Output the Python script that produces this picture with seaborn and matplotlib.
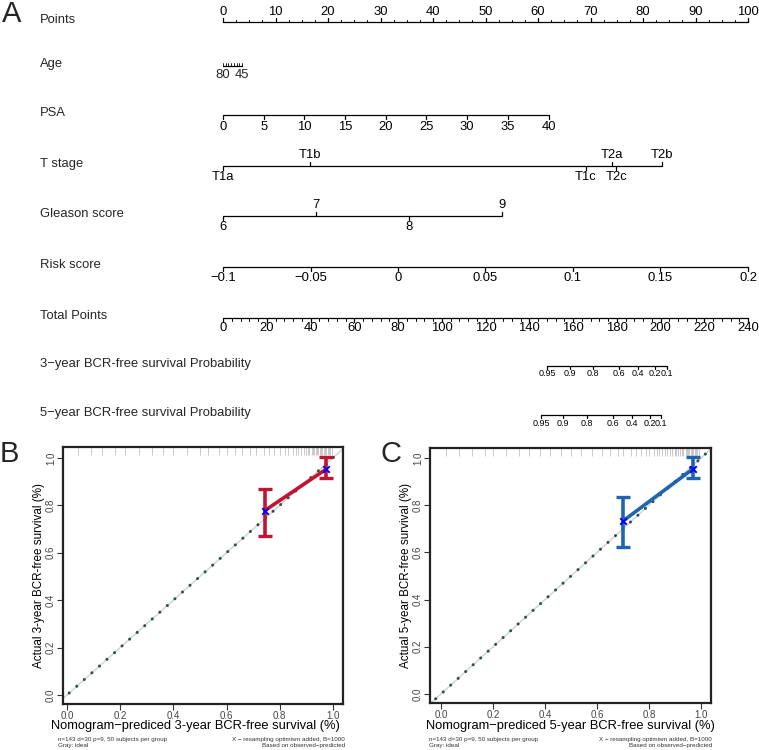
# Nomogram (A) plus two calibration curves (B, C) for BCR-free survival

import numpy as np
import seaborn as sns
import matplotlib
matplotlib.use("Agg")
import matplotlib.pyplot as plt

# ---- nomogram data (positions in "Points" units, 0-100) ----
points_ticks = [0, 10, 20, 30, 40, 50, 60, 70, 80, 90, 100]
age_ends = [80, 45]
age_end_points = [0.0, 3.6]
age_ticks = [80, 75, 70, 65, 60, 55, 50, 45]
psa_ticks = [0, 5, 10, 15, 20, 25, 30, 35, 40]
psa_max_points = 62.0
t_stage_labels = ["T1a", "T1b", "T1c", "T2a", "T2c", "T2b"]
t_stage_points = [0.0, 16.6, 69.1, 74.1, 74.9, 83.6]
t_stage_side = ["down", "up", "down", "up", "down", "up"]
gleason_labels = ["6", "7", "8", "9"]
gleason_points = [0.0, 17.7, 35.4, 53.1]
gleason_side = ["down", "up", "down", "up"]
risk_ticks = [-0.1, -0.05, 0, 0.05, 0.1, 0.15, 0.2]
risk_labels = ["\u22120.1", "\u22120.05", "0", "0.05", "0.1", "0.15", "0.2"]
total_ticks = [0, 20, 40, 60, 80, 100, 120, 140, 160, 180, 200, 220, 240]
prob_labels = ["0.95", "0.9", "0.8", "0.6", "0.4", "0.2", "0.1"]
prob3_total = [148.1, 158.6, 169.1, 181.0, 189.7, 197.5, 203.0]
prob5_total = [145.4, 155.4, 166.4, 178.3, 187.0, 195.2, 200.2]
row_names = ["Points", "Age", "PSA", "T stage", "Gleason score", "Risk score",
             "Total Points", "3\u2212year BCR-free survival Probability",
             "5\u2212year BCR-free survival Probability"]

# ---- calibration data ----
pred3 = [0.744, 0.974]
obs3 = [0.778, 0.952]
lo3 = [0.671, 0.916]
hi3 = [0.869, 1.005]
rug3 = [0.04, 0.09, 0.13, 0.18, 0.22, 0.27, 0.32, 0.36, 0.4, 0.45, 0.5, 0.53, 0.57,
        0.6, 0.63, 0.66, 0.69, 0.71, 0.74, 0.76, 0.78, 0.8, 0.82, 0.83, 0.85, 0.86,
        0.87, 0.88, 0.89, 0.9, 0.905, 0.91, 0.92, 0.925, 0.93, 0.935, 0.94, 0.945,
        0.95, 0.955, 0.96, 0.965, 0.97, 0.975, 0.98, 0.985, 0.99, 0.995]
pred5 = [0.701, 0.967]
obs5 = [0.734, 0.952]
lo5 = [0.624, 0.915]
hi5 = [0.833, 1.005]
rug5 = [0.02, 0.07, 0.12, 0.17, 0.2, 0.25, 0.3, 0.34, 0.38, 0.42, 0.46, 0.5, 0.54,
        0.58, 0.62, 0.65, 0.68, 0.7, 0.73, 0.75, 0.77, 0.79, 0.8, 0.82, 0.83, 0.84,
        0.85, 0.86, 0.87, 0.88, 0.89, 0.9, 0.905, 0.91, 0.92, 0.925, 0.93, 0.94,
        0.945, 0.95, 0.955, 0.96, 0.965, 0.97, 0.975, 0.98, 0.985, 0.99]

sns.set_theme(style="white")
plt.rcParams["font.family"] = ["Liberation Sans", "DejaVu Sans"]

W, H = 759, 750
fig = plt.figure(figsize=(W / 100, H / 100), dpi=100)

# nomogram axes: x in points (0-100), y in figure pixels from the top
nom = fig.add_axes([223 / W, 1 - 430 / H, 525 / W, 430 / H])
nom.set_xlim(0, 100)
nom.set_ylim(430, 0)
nom.axis("off")

row_y = [22, 66, 115, 166, 216, 267, 318, 366, 415]
FS = 9.4


def scale(y, pos, labels, sides, minor=(), minor_side="down", size=FS, pad=11,
          major_len=4, minor_len=2.5):
    allpos = list(pos) + list(minor)
    nom.plot([min(allpos), max(allpos)], [y, y], color="black", lw=0.9,
             clip_on=False, solid_capstyle="butt")
    for p, lab, s in zip(pos, labels, sides):
        d = -1 if s == "up" else 1
        nom.plot([p, p], [y, y + d * major_len], color="black", lw=0.9, clip_on=False)
        nom.text(p, y + d * pad, lab, ha="center", va="center", fontsize=size,
                 color="black", clip_on=False)
    d = -1 if minor_side == "up" else 1
    for p in minor:
        nom.plot([p, p], [y, y + d * minor_len], color="black", lw=0.7, clip_on=False)


# Points
scale(row_y[0], points_ticks, [str(t) for t in points_ticks], ["up"] * 11,
      minor=np.arange(0, 100.1, 2.5), minor_side="up", pad=10)
# Age
age_pos = np.interp(age_ticks, age_ends[::-1], age_end_points[::-1])
nom.plot([0, age_end_points[1]], [row_y[1], row_y[1]], color="black", lw=0.9)
for p in age_pos:
    nom.plot([p, p], [row_y[1], row_y[1] - 3], color="black", lw=0.6)
for v, p in zip(age_ends, age_end_points):
    nom.text(p, row_y[1] + 9, str(v), ha="center", va="center", fontsize=FS)
# PSA
psa_pos = np.interp(psa_ticks, [0, 40], [0, psa_max_points])
scale(row_y[2], psa_pos, [str(t) for t in psa_ticks], ["down"] * len(psa_ticks), pad=12)
# T stage
scale(row_y[3], t_stage_points, t_stage_labels, t_stage_side)
# Gleason
scale(row_y[4], gleason_points, gleason_labels, gleason_side)
# Risk score
risk_pos = np.interp(risk_ticks, [-0.1, 0.2], [0, 100])
scale(row_y[5], risk_pos, risk_labels, ["down"] * len(risk_ticks))
# Total points
total_pos = np.interp(total_ticks, [0, 240], [0, 100])
scale(row_y[6], total_pos, [str(t) for t in total_ticks], ["down"] * len(total_ticks),
      minor=np.interp(np.arange(0, 240.1, 4), [0, 240], [0, 100]), pad=10)
# survival probabilities
scale(row_y[7], np.interp(prob3_total, [0, 240], [0, 100]), prob_labels,
      ["down"] * 7, size=6.5, pad=8, major_len=3)
scale(row_y[8], np.interp(prob5_total, [0, 240], [0, 100]), prob_labels,
      ["down"] * 7, size=6.5, pad=8, major_len=3)

for name, y in zip(row_names, row_y):
    fig.text(40 / W, 1 - (y - 2) / H, name, ha="left", va="center", fontsize=FS)


def calib(box, xlim, ylim, pred, obs, lo, hi, rug, color, year, foot_x, xlab_x):
    left, top, right, bottom = box
    ax = fig.add_axes([left / W, 1 - bottom / H, (right - left) / W, (bottom - top) / H])
    ax.set_xlim(xlim)
    ax.set_ylim(ylim)
    ax.axline((0, 0), (1, 1), color="#d4d4d4", lw=1.1, zorder=1)
    ax.plot([-0.02, 1.03], [-0.02, 1.03], color="#2f4f4f", lw=2.2,
            linestyle=(0, (0.01, 3.3)), dash_capstyle="round", zorder=2)
    sns.lineplot(x=pred, y=obs, color=color, lw=2.6, ax=ax, zorder=3)
    obs_a = np.array(obs)
    ax.errorbar(pred, obs, yerr=[obs_a - np.array(lo), np.array(hi) - obs_a], fmt="none",
                ecolor=color, elinewidth=2.6, capsize=5, capthick=2.4, zorder=3)
    sns.scatterplot(x=pred, y=obs, marker="x", color="blue", s=22, linewidth=1.4,
                    ax=ax, zorder=4)
    ax.vlines(rug, ylim[1] - 0.035, ylim[1], color="#999999", lw=0.6, alpha=0.6, zorder=1)
    ticks = [0.0, 0.2, 0.4, 0.6, 0.8, 1.0]
    ax.set_xticks(ticks)
    ax.set_yticks(ticks)
    ax.set_xticklabels([f"{t:.1f}" for t in ticks])
    ax.set_yticklabels([f"{t:.1f}" for t in ticks], rotation=90, va="center")
    ax.tick_params(direction="out", length=4, width=0.8, color="#333333",
                   labelsize=7, labelcolor="#444444", pad=1, bottom=True, left=True)
    for sp in ax.spines.values():
        sp.set_color("#222222")
        sp.set_linewidth(1.6)
    ax.set_xlabel(f"Nomogram\u2212prediced {year}-year BCR-free survival (%)",
                  fontsize=9.3, color="black", va="top")
    ax.xaxis.set_label_coords((xlab_x - left) / (right - left),
                              -(720 - bottom) / (bottom - top))
    ax.set_ylabel(f"Actual {year}-year BCR-free survival (%)", fontsize=8.4,
                  color="black", va="center")
    ax.yaxis.set_label_coords(-0.085, 0.5)
    fig.text(foot_x[0] / W, 1 - 739.5 / H, "n=143 d=30 p=9, 50 subjects per group",
             fontsize=4.5, ha="left", va="center", color="#333333")
    fig.text(foot_x[0] / W, 1 - 745.5 / H, "Gray: ideal",
             fontsize=4.5, ha="left", va="center", color="#333333")
    fig.text(foot_x[1] / W, 1 - 739.5 / H, "X \u2212 resampling optimism added, B=1000",
             fontsize=4.5, ha="right", va="center", color="#333333")
    fig.text(foot_x[1] / W, 1 - 745.5 / H, "Based on observed\u2212predicted",
             fontsize=4.5, ha="right", va="center", color="#333333")
    return ax


calib((63, 447, 343, 704), (-0.015, 1.038), (-0.038, 1.046), pred3, obs3, lo3, hi3,
      rug3, "#c0152f", 3, (58, 345), 195)
calib((430, 448, 711, 703), (-0.042, 1.038), (-0.038, 1.042), pred5, obs5, lo5, hi5,
      rug5, "#1f64b0", 5, (429, 712), 570)

fig.text(2 / W, 1 - 14 / H, "A", fontsize=21, ha="left", va="center")
fig.text(0 / W, 1 - 454 / H, "B", fontsize=21, ha="left", va="center")
fig.text(380 / W, 1 - 454 / H, "C", fontsize=21, ha="left", va="center")

fig.savefig("out.png", dpi=100)
